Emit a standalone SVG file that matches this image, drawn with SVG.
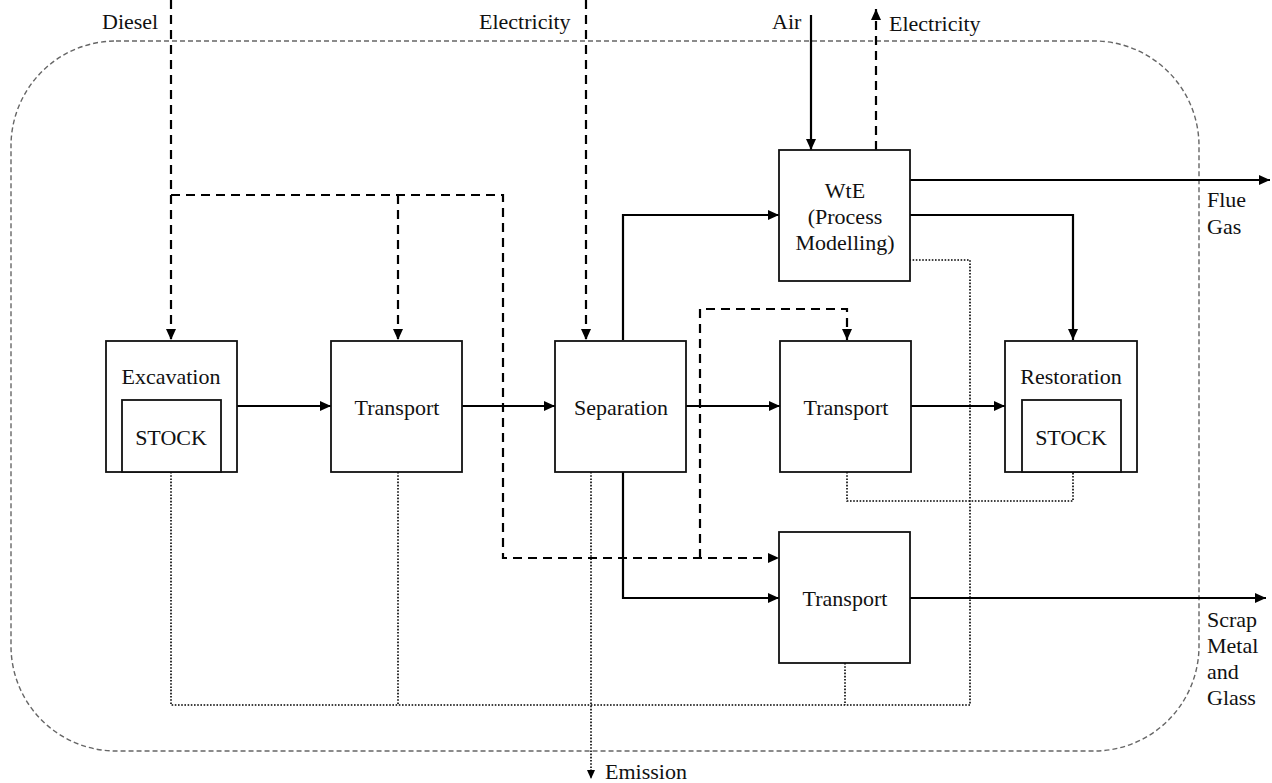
<svg xmlns="http://www.w3.org/2000/svg" width="1272" height="783" viewBox="0 0 1272 783">
<style>
text{font-family:"Liberation Serif","DejaVu Serif","Times New Roman",serif;font-size:22px;fill:#111}
.box{fill:#fff;stroke:#111;stroke-width:1.8}
.solid{fill:none;stroke:#000;stroke-width:2.2}
.dash{fill:none;stroke:#000;stroke-width:2.2;stroke-dasharray:9,6}
.dot{fill:none;stroke:#000;stroke-width:1.6;stroke-dasharray:1.6,1.6}
.bound{fill:none;stroke:#666;stroke-width:1.4;stroke-dasharray:5,3}
.c{text-anchor:middle}
</style>
<defs>
<marker id="ah" markerUnits="userSpaceOnUse" markerWidth="12" markerHeight="10" refX="11" refY="5" orient="auto">
<path d="M0,0 L11,5 L0,10 Z" fill="#000"/>
</marker>
<marker id="ahs" markerUnits="userSpaceOnUse" markerWidth="10" markerHeight="8" refX="9" refY="4" orient="auto">
<path d="M0,0 L9,4 L0,8 Z" fill="#000"/>
</marker>
</defs>
<rect class="bound" x="11" y="41" width="1188" height="710" rx="105" ry="105"/>
<g id="connectors">
<path class="dot" d="M171,472 V705 H970 V260 H910"/>
<path class="dot" d="M398,472 V705"/>
<path class="dot" d="M845,663 V705"/>
<path class="dot" d="M847,472 V501 H1073 V472"/>
<path class="dot" d="M591,472 V779" marker-end="url(#ahs)"/>
<path class="dash" d="M171,0 V340" marker-end="url(#ah)"/>
<path class="dash" d="M171,195 H503 V558 H779" marker-end="url(#ah)"/>
<path class="dash" d="M398,195 V340" marker-end="url(#ah)"/>
<path class="dash" d="M586,0 V340" marker-end="url(#ah)"/>
<path class="dash" d="M700,558 V309 H847 V340" marker-end="url(#ah)"/>
<path class="dash" d="M876,150 V9" marker-end="url(#ah)"/>
<path class="solid" d="M811,15 V150" marker-end="url(#ah)"/>
<path class="solid" d="M237,406 H331" marker-end="url(#ah)"/>
<path class="solid" d="M462,406 H555" marker-end="url(#ah)"/>
<path class="solid" d="M686,406 H780" marker-end="url(#ah)"/>
<path class="solid" d="M911,406 H1005" marker-end="url(#ah)"/>
<path class="solid" d="M623,340 V215 H779" marker-end="url(#ah)"/>
<path class="solid" d="M623,472 V598 H779" marker-end="url(#ah)"/>
<path class="solid" d="M910,180 H1270" marker-end="url(#ah)"/>
<path class="solid" d="M910,215 H1073 V340" marker-end="url(#ah)"/>
<path class="solid" d="M910,598 H1266" marker-end="url(#ah)"/>
</g>
<g id="excavation">
<rect class="box" x="106" y="341" width="131" height="131"/>
<text class="c" x="171" y="384">Excavation</text>
<rect class="box" x="122" y="400" width="99" height="72"/>
<text class="c" x="171" y="445">STOCK</text>
</g>
<g id="transport1">
<rect class="box" x="331" y="341" width="131" height="131"/>
<text class="c" x="397" y="415">Transport</text>
</g>
<g id="separation">
<rect class="box" x="555" y="341" width="131" height="131"/>
<text class="c" x="621" y="415">Separation</text>
</g>
<g id="transport2">
<rect class="box" x="780" y="341" width="131" height="131"/>
<text class="c" x="846" y="415">Transport</text>
</g>
<g id="restoration">
<rect class="box" x="1005" y="341" width="132" height="131"/>
<text class="c" x="1071" y="384">Restoration</text>
<rect class="box" x="1022" y="400" width="99" height="72"/>
<text class="c" x="1071" y="445">STOCK</text>
</g>
<g id="wte">
<rect class="box" x="779" y="150" width="131" height="131"/>
<text class="c" x="845" y="198">WtE</text>
<text class="c" x="845" y="224">(Process</text>
<text class="c" x="845" y="250">Modelling)</text>
</g>
<g id="transport3">
<rect class="box" x="779" y="532" width="131" height="131"/>
<text class="c" x="845" y="606">Transport</text>
</g>
<g id="labels">
<text x="102" y="29">Diesel</text>
<text x="479" y="29">Electricity</text>
<text x="772" y="29">Air</text>
<text x="889" y="31">Electricity</text>
<text x="1207" y="207">Flue</text>
<text x="1207" y="234">Gas</text>
<text x="1207" y="627">Scrap</text>
<text x="1207" y="653">Metal</text>
<text x="1207" y="679">and</text>
<text x="1207" y="705">Glass</text>
<text x="605" y="779">Emission</text>
</g>
</svg>
